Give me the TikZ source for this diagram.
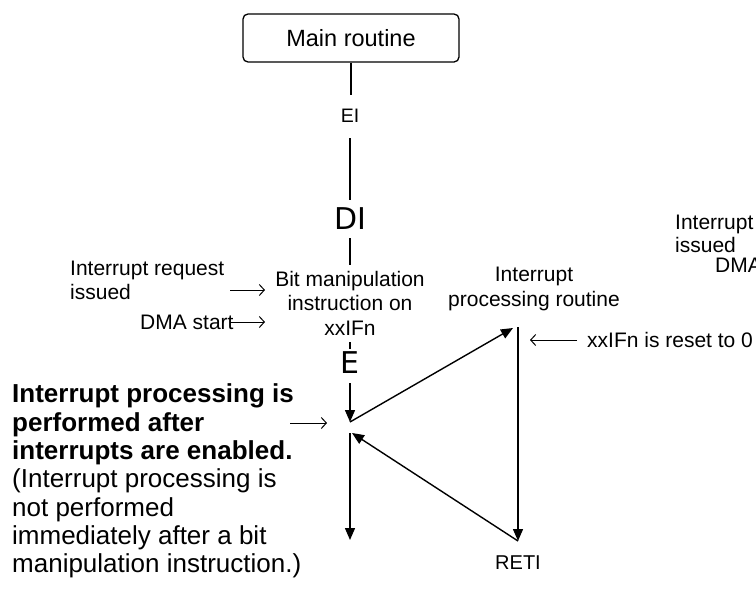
\documentclass[tikz,border=0pt]{standalone}
\usepackage{fontspec}
\setmainfont{Liberation Sans}
\newfontfamily\dejavu{DejaVu Sans}
\usetikzlibrary{arrows.meta}

\tikzset{
  flow/.style={line width=1.4pt, -{Triangle[length=12pt,width=10pt]}},
  seg/.style={line width=1.4pt},
  note/.style={line width=1pt, -{Straight Barb[length=5pt,width=11pt]}},
  txt/.style={inner sep=0pt, align=center, font=\fontsize{21}{24.5}\selectfont},
  bigtxt/.style={inner sep=0pt, font=\dejavu\fontsize{30}{32}\selectfont},
}

\begin{document}
\begin{tikzpicture}[x=1pt,y=-1pt]
  \useasboundingbox (0,0) rectangle (756,592);
  \clip (0,0) rectangle (756,592);

  % Main routine
  \node[draw, line width=1.3pt, rounded corners=5pt, minimum width=216pt, minimum height=48pt,
        inner sep=0pt, font=\fontsize{23.5}{26}\selectfont] (main) at (351,38) {Main routine\hspace{14pt}};

  % Labels on the main line
  \node[txt, font=\fontsize{19.5}{22}\selectfont] (ei) at (350,116) {EI};
  \node[bigtxt] (di) at (350,219) {DI};
  \node[bigtxt] (en) at (350,363) {E};
  \node[txt] (bit) at (350,303) {Bit manipulation\\instruction on\\xxIFn};

  % Points
  \coordinate (m1) at (351,95);
  \coordinate (m2) at (350,138);
  \coordinate (m3) at (350,200);
  \coordinate (m4) at (350,238);
  \coordinate (m5) at (350,265);
  \coordinate (m6) at (350,342);
  \coordinate (m7) at (350,349);
  \coordinate (m8) at (350,383);
  \coordinate (P) at (350,422);
  \coordinate (Q) at (350,433);
  \coordinate (Qtip) at (352,433);
  \coordinate (out) at (350,540);
  \coordinate (top) at (518,327);
  \coordinate (toptip) at (513,328);
  \coordinate (bot) at (518,541);

  % Main line
  \draw[seg] (main.south) -- (m1);
  \draw[seg] (m2) -- (m3);
  \draw[seg] (m4) -- (m5);
  \draw[seg] (m6) -- (m7);
  \draw[flow] (m8) -- (P);
  \draw[flow] (Q) -- (out);

  % Interrupt routine
  \node[txt] (ipr) at (534,289) {Interrupt\\processing routine};
  \node[txt, font=\fontsize{20}{22}\selectfont] (reti) at (518,563) {RETI};
  \draw[flow] (P) -- (toptip);
  \draw[flow] (top) -- (bot);
  \draw[flow] (bot) -- (Qtip);

  % Notes
  \node[txt, align=left, anchor=west] (irq) at (70,280.5) {Interrupt request\\issued};
  \node[txt, anchor=west] (dma) at (140,322) {DMA start};
  \node[txt, anchor=west] (reset) at (587,340) {xxIFn is reset to 0};
  \node[txt, align=left, anchor=west, font=\fontsize{21}{23}\selectfont] (irqb) at (675,233.5) {Interrupt request\\issued};
  \node[txt, anchor=west] (dmab) at (715,265) {DMA start};
  \node[inner sep=0pt, align=left, anchor=west, font=\fontsize{26}{28.3}\selectfont] (cond) at (12,481)
    {\textbf{Interrupt processing is}\\\textbf{performed after}\\\textbf{interrupts are enabled.}\\(Interrupt processing is\\not performed\\immediately after a bit\\manipulation instruction.)};

  \coordinate (n1) at (230,290);
  \coordinate (n1e) at (265,290);
  \coordinate (n2) at (230,322);
  \coordinate (n2e) at (265,322);
  \coordinate (n3) at (290,423);
  \coordinate (n3e) at (327,423);
  \coordinate (n4) at (577,340);
  \coordinate (n4e) at (530,340);
  \draw[note] (n1) -- (n1e);
  \draw[note] (n2) -- (n2e);
  \draw[note] (n3) -- (n3e);
  \draw[note] (n4) -- (n4e);
\end{tikzpicture}
\end{document}
